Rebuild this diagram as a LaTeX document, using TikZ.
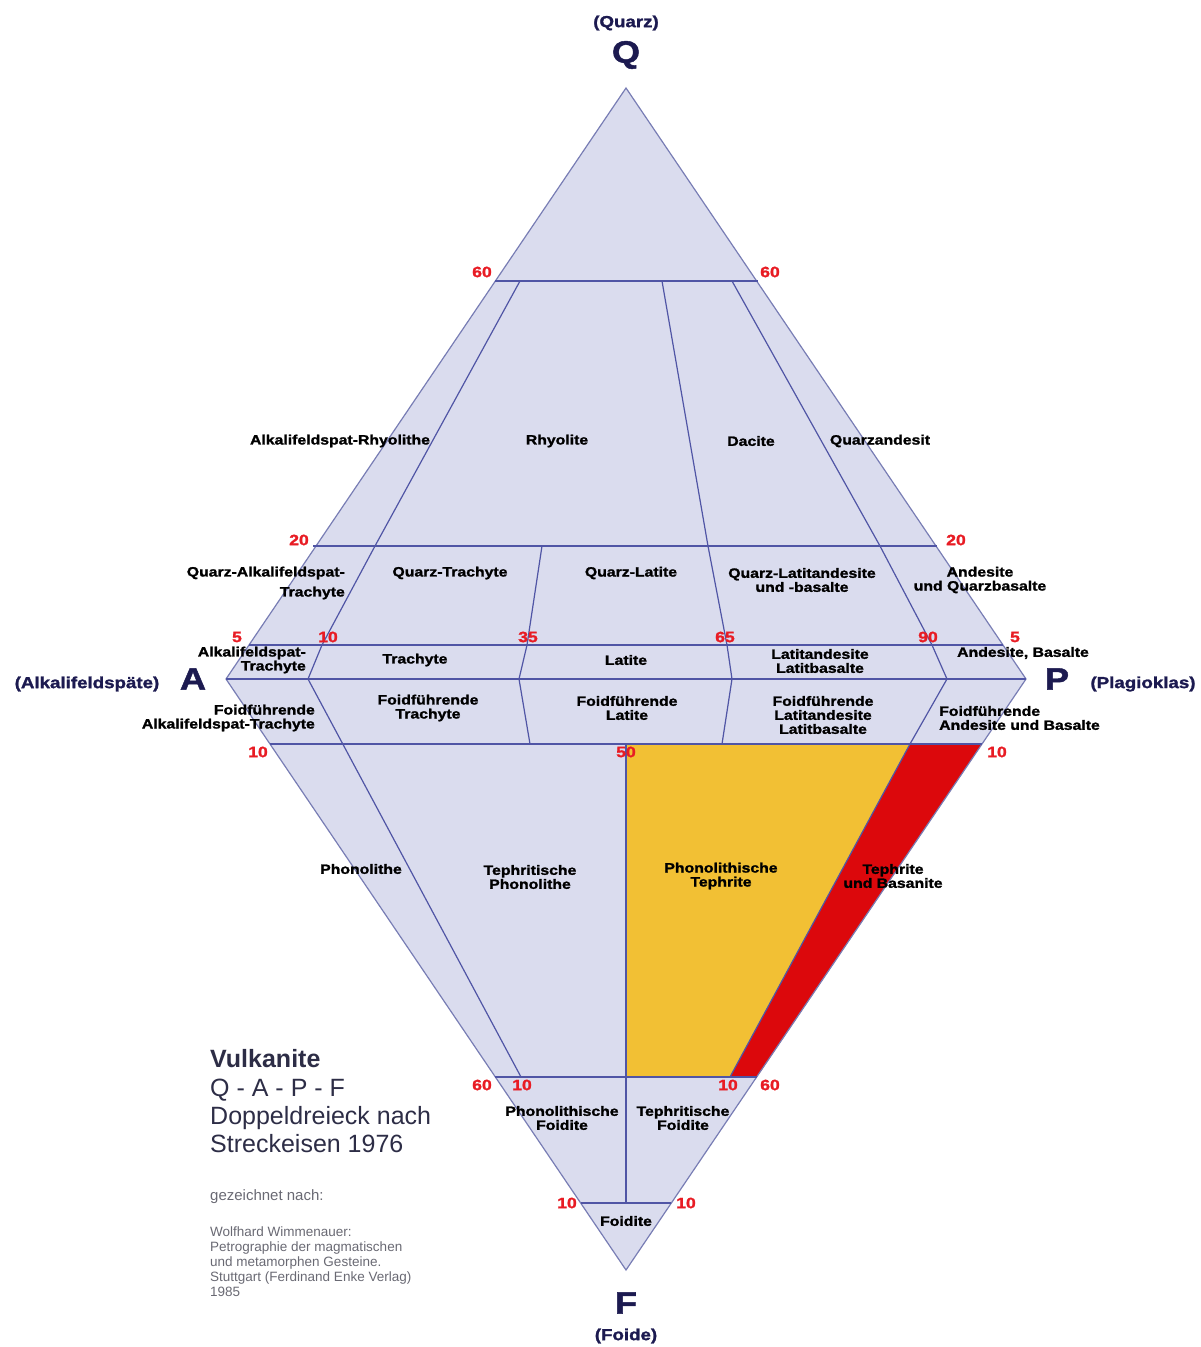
\documentclass[tikz,border=0pt]{standalone}
\usepackage{fontspec}
\setmainfont{Liberation Sans}
\newfontfamily\zoneFont[FakeStretch=1.17,FakeBold=1.5]{Liberation Sans}
\definecolor{diamondFill}{RGB}{218,220,238}
\definecolor{edgeBlue}{RGB}{120,125,180}
\definecolor{lineBlue}{RGB}{80,85,165}
\definecolor{tephriteYellow}{RGB}{242,192,52}
\definecolor{basaniteRed}{RGB}{220,8,12}
\definecolor{markRed}{RGB}{232,28,36}
\definecolor{cornerNavy}{RGB}{28,26,80}
\definecolor{titleGray}{RGB}{45,45,70}
\definecolor{sourceGray}{RGB}{105,105,115}
\newcommand{\zoneLabel}[4]{%%
  \node[zoneStyle,#4] (#1) at (#2) {#3};
}
\newcommand{\scaleMark}[3]{%%
  \node[markStyle] (#1) at (#2) {#3};
}
\newcommand{\cornerLabel}[5]{%%
  %% The big letter and its mineral name.
  \node[cornerStyle] (#1) at (#2) {#1};
  \node[cornerNoteStyle] (#1note) at (#4) {#5};
}
\newcommand{\diamondFrame}{%%
  \fill[diamondFill] (Q) -- (P) -- (F) -- (A) -- cycle;
  %% The two coloured fields of the lower triangle.
  \fill[tephriteYellow] (d50a) -- (d90e) -- (d90f) -- (d50m) -- cycle;
  \fill[basaniteRed] (d90e) -- (f10r) -- (f60r) -- (d90f) -- cycle;
  \draw[edgeStyle] (Q) -- (P) -- (F) -- (A) -- cycle;
}
\newcommand{\fieldLines}{%%
  %% Horizontal limits.
  \draw[lineStyle] (q60l) -- (q60r);
  \draw[lineStyle] (q20l) -- (q20r);
  \draw[lineStyle] (q5l) -- (q5r);
  \draw[lineStyle] (A) -- (P);
  \draw[lineStyle] (f10l) -- (f10r);
  \draw[lineStyle] (f60l) -- (f60r);
  \draw[lineStyle] (f90l) -- (f90r);
  %% Dividers of the ratio A/(A+P).
  \draw[lineStyle] (d10a) -- (d10b) -- (d10c) -- (d10d) -- (d10e);
  \draw[lineStyle] (d35a) -- (d35b) -- (d35c) -- (d35d);
  \draw[lineStyle] (d65a) -- (d65b) -- (d65c) -- (d65d) -- (d65e);
  \draw[lineStyle] (d90a) -- (d90b) -- (d90c) -- (d90d) -- (d90e) -- (d90f);
  \draw[lineStyle] (d50a) -- (d50b);
}

\begin{document}
\begin{tikzpicture}[%%
  x=1pt,y=-1pt,%%
  edgeStyle/.style={draw=edgeBlue,line width=1.2pt},%%
  lineStyle/.style={draw=lineBlue,line width=1.2pt},%%
  zoneStyle/.style={font=\zoneFont\bfseries\fontsize{13.5}{14}\selectfont,align=center,inner sep=0pt,text=black},%%
  markStyle/.style={font=\zoneFont\bfseries\fontsize{15}{15}\selectfont,inner sep=0pt,text=markRed},%%
  cornerStyle/.style={font=\zoneFont\bfseries\fontsize{31}{31}\selectfont,inner sep=0pt,text=cornerNavy},%%
  cornerNoteStyle/.style={font=\zoneFont\bfseries\fontsize{16}{16}\selectfont,inner sep=0pt,text=cornerNavy},%%
  titleStyle/.style={font=\fontsize{25}{28}\selectfont,inner sep=0pt,text=titleGray,anchor=base west},%%
  sourceStyle/.style={font=\fontsize{13.5}{15}\selectfont,inner sep=0pt,text=sourceGray,align=left}
]
\useasboundingbox (0,0) rectangle (1201,1347);
%%
%%
\coordinate (Q) at (626,88);
\coordinate (A) at (226,679);
\coordinate (P) at (1026,679);
\coordinate (F) at (626,1270);
\coordinate (q60l) at (495,281);
\coordinate (q60r) at (758,281);
\coordinate (q20l) at (313,546);
\coordinate (q20r) at (937,546);
\coordinate (q5l) at (249,645);
\coordinate (q5r) at (1003,645);
\coordinate (f10l) at (270,744);
\coordinate (f10r) at (982,744);
\coordinate (f60l) at (495,1077);
\coordinate (f60r) at (757,1077);
\coordinate (f90l) at (581,1203);
\coordinate (f90r) at (671,1203);
\coordinate (d10a) at (520,281);
\coordinate (d10b) at (375,546);
\coordinate (d10c) at (322,645);
\coordinate (d10d) at (308,679);
\coordinate (d10e) at (521,1077);
\coordinate (d35a) at (542,546);
\coordinate (d35b) at (527,645);
\coordinate (d35c) at (519,679);
\coordinate (d35d) at (530,744);
\coordinate (d65a) at (662,281);
\coordinate (d65b) at (708,546);
\coordinate (d65c) at (727,645);
\coordinate (d65d) at (732,679);
\coordinate (d65e) at (722,744);
\coordinate (d90a) at (732,281);
\coordinate (d90b) at (880,546);
\coordinate (d90c) at (932,645);
\coordinate (d90d) at (947,679);
\coordinate (d90e) at (910,744);
\coordinate (d90f) at (730,1077);
\coordinate (d50a) at (626,744);
\coordinate (d50m) at (626,1077);
\coordinate (d50b) at (626,1203);
%%
%%
%% Draw the double triangle.
\diamondFrame
\fieldLines
%% Percent marks.
\scaleMark{m60ql}{482,272}{60}
\scaleMark{m60qr}{770,272}{60}
\scaleMark{m20l}{299,540}{20}
\scaleMark{m20r}{956,540}{20}
\scaleMark{m5l}{237,637}{5}
\scaleMark{m10}{328,637}{10}
\scaleMark{m35}{528,637}{35}
\scaleMark{m65}{725,637}{65}
\scaleMark{m90}{928,637}{90}
\scaleMark{m5r}{1015,637}{5}
\scaleMark{m10fl}{258,752}{10}
\scaleMark{m50}{626,752}{50}
\scaleMark{m10fr}{997,752}{10}
\scaleMark{m60fl}{482,1085}{60}
\scaleMark{m10pf}{522,1085}{10}
\scaleMark{m10tf}{728,1085}{10}
\scaleMark{m60fr}{770,1085}{60}
\scaleMark{m90l}{567,1203}{10}
\scaleMark{m90r}{686,1203}{10}
%% Rock names, upper triangle.
\zoneLabel{alkRhyolithe}{340,441}{Alkalifeldspat-Rhyolithe}{}
\zoneLabel{rhyolite}{557,441}{Rhyolite}{}
\zoneLabel{dacite}{751,441}{Dacite}{}
\zoneLabel{quarzandesit}{880,441}{Quarzandesit}{}
\zoneLabel{quarzAlkTrachyte}{345,583}{Quarz-Alkalifeldspat-\\[6pt]Trachyte}{anchor=east,align=right}
\zoneLabel{quarzTrachyte}{450,573}{Quarz-Trachyte}{}
\zoneLabel{quarzLatite}{631,573}{Quarz-Latite}{}
\zoneLabel{quarzLatitandesite}{802,580}{Quarz-Latitandesite\\und -basalte}{}
\zoneLabel{andesiteQuarz}{980,580}{Andesite\\und Quarzbasalte}{}
\zoneLabel{alkTrachyte}{306,660}{Alkalifeldspat-\\Trachyte}{anchor=east,align=right}
\zoneLabel{trachyte}{415,660}{Trachyte}{}
\zoneLabel{latite}{626,660}{Latite}{}
\zoneLabel{latitandesite}{820,661}{Latitandesite\\Latitbasalte}{}
\zoneLabel{andesiteBasalte}{1023,653}{Andesite, Basalte}{}
%% Rock names, lower triangle.
\zoneLabel{foidAlkTrachyte}{315,718}{Foidführende\\Alkalifeldspat-Trachyte}{anchor=east,align=right}
\zoneLabel{foidTrachyte}{428,708}{Foidführende\\Trachyte}{}
\zoneLabel{foidLatite}{627,708}{Foidführende\\Latite}{}
\zoneLabel{foidLatitandesite}{823,715}{Foidführende\\Latitandesite\\Latitbasalte}{}
\zoneLabel{foidAndesite}{939,718}{Foidführende\\Andesite und Basalte}{anchor=west,align=left}
\zoneLabel{phonolithe}{361,869}{Phonolithe}{}
\zoneLabel{tephrPhonolithe}{530,877}{Tephritische\\Phonolithe}{}
\zoneLabel{phonTephrite}{721,876}{Phonolithische\\Tephrite}{}
\zoneLabel{tephrite}{893,876}{Tephrite\\und Basanite}{}
\zoneLabel{phonFoidite}{562,1118}{Phonolithische\\Foidite}{}
\zoneLabel{tephrFoidite}{683,1118}{Tephritische\\Foidite}{}
\zoneLabel{foidite}{626,1221}{Foidite}{}
%% Corners.
\cornerLabel{Q}{626,55}{}{626,23}{(Quarz)}
\cornerLabel{A}{193,679}{}{87,684}{(Alkalifeldspäte)}
\cornerLabel{P}{1057,679}{}{1143,684}{(Plagioklas)}
\cornerLabel{F}{626,1303}{}{626,1336}{(Foide)}
%% Title and source.
\node[titleStyle] (title) at (210,1067) {\bfseries Vulkanite};
\node[titleStyle] (titleQapf) at (210,1096) {Q - A - P - F};
\node[titleStyle] (titleKind) at (210,1124) {Doppeldreieck nach};
\node[titleStyle] (titleYear) at (210,1152) {Streckeisen 1976};
\node[sourceStyle,font=\fontsize{15}{15}\selectfont,anchor=base west] (drawnAfter) at (210,1200) {gezeichnet nach:};
\node[sourceStyle,anchor=north west] (source) at (210,1227) {Wolfhard Wimmenauer:\\Petrographie der magmatischen\\und metamorphen Gesteine.\\Stuttgart (Ferdinand Enke Verlag)\\1985};
\end{tikzpicture}
\end{document}
